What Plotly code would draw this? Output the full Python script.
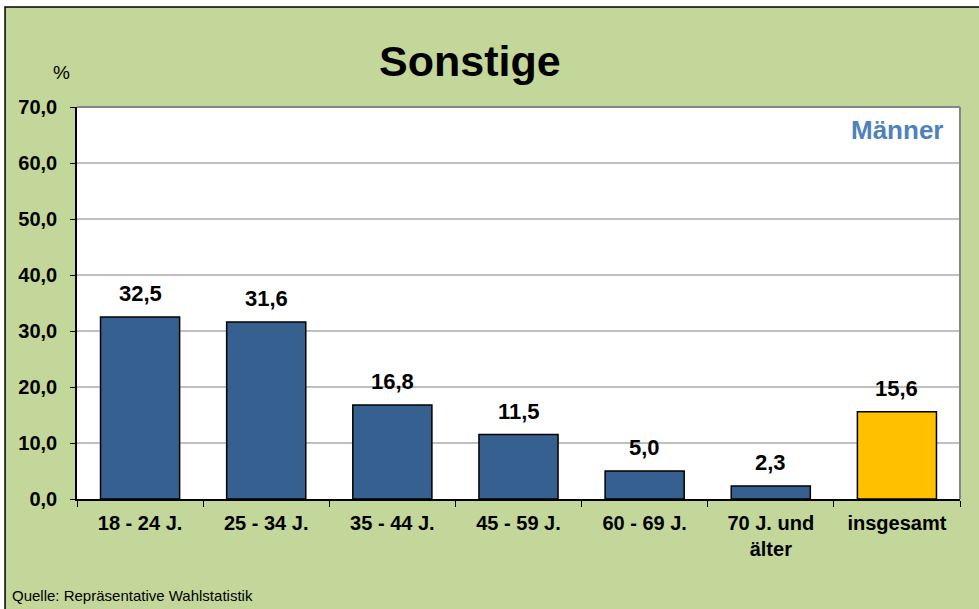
import plotly.graph_objects as go

categories = ["18 - 24 J.", "25 - 34 J.", "35 - 44 J.", "45 - 59 J.", "60 - 69 J.", "70 J. und<br>älter", "insgesamt"]
values = [32.5, 31.6, 16.8, 11.5, 5.0, 2.3, 15.6]
bar_colors = ["#36608F"] * 6 + ["#FFC000"]

FONT = "Liberation Sans, Arial, sans-serif"

fig = go.Figure()
fig.add_trace(go.Bar(
    x=categories, y=values,
    marker=dict(color=bar_colors, line=dict(color="black", width=1.5)),
    hoverinfo="x+y",
))

# value labels above the bars
for c, v in zip(categories, values):
    fig.add_annotation(
        x=c, y=v, text="<b>" + f"{v:.1f}".replace(".", ",") + "</b>",
        showarrow=False, yanchor="bottom", yshift=9,
        font=dict(family=FONT, size=22, color="black"),
    )

fig.update_layout(
    width=979, height=609,
    margin=dict(l=77, r=19, t=107, b=110),
    paper_bgcolor="white",
    plot_bgcolor="rgba(0,0,0,0)",
    separators=",.",
    showlegend=False,
    bargap=0.373,
    font=dict(family=FONT, color="black"),
    shapes=[
        # green chart area with black frame
        dict(type="rect", xref="paper", yref="paper", x0=-0.0815, x1=1.05, y0=-0.35, y1=1.255,
             fillcolor="#C4D79B", line=dict(color="black", width=1.5), layer="below"),
        # white plot area
        dict(type="rect", xref="paper", yref="paper", x0=0, x1=1, y0=0, y1=1,
             fillcolor="white", line=dict(width=0), layer="below"),
        # grey top and right border
        dict(type="line", xref="paper", yref="paper", x0=0, x1=1, y0=1, y1=1,
             line=dict(color="#868686", width=2), layer="above"),
        dict(type="line", xref="paper", yref="paper", x0=1, x1=1, y0=0, y1=1,
             line=dict(color="#868686", width=2), layer="above"),
    ],
)

fig.update_yaxes(
    range=[0, 70], dtick=10, tickformat=".1f",
    showgrid=True, gridcolor="#BFBFBF", gridwidth=1.5, zeroline=False,
    showline=True, linecolor="black", linewidth=1.5,
    ticks="outside", ticklen=5, tickcolor="black", ticklabelstandoff=9,
    tickfont=dict(family=FONT, size=20, color="black", weight="bold"),
)
fig.update_xaxes(
    showline=True, linecolor="black", linewidth=1.5,
    ticks="outside", tickson="boundaries", ticklen=6, tickcolor="black", ticklabelstandoff=5,
    tickfont=dict(family=FONT, size=20, color="black", weight="bold"),
)

fig.add_annotation(text="<b>Sonstige</b>", xref="paper", yref="paper", x=0.445, y=1.117,
                   xanchor="center", yanchor="middle", showarrow=False,
                   font=dict(family=FONT, size=43, color="black"))
fig.add_annotation(text="%", xref="paper", yref="paper", x=-0.017, y=1.089,
                   xanchor="center", yanchor="middle", showarrow=False,
                   font=dict(family=FONT, size=19, color="black"))
fig.add_annotation(text="<b>Männer</b>", xref="paper", yref="paper", x=0.983, y=0.941,
                   xanchor="right", yanchor="middle", showarrow=False,
                   font=dict(family=FONT, size=26, color="#4F81BD"))
fig.add_annotation(text="Quelle: Repräsentative Wahlstatistik", xref="paper", yref="paper",
                   x=-0.0759, y=-0.245, xanchor="left", yanchor="middle", showarrow=False,
                   font=dict(family=FONT, size=15, color="black"))

fig.write_html("out.html", config={"displayModeBar": False},
               post_script="document.body.style.margin='0';")
